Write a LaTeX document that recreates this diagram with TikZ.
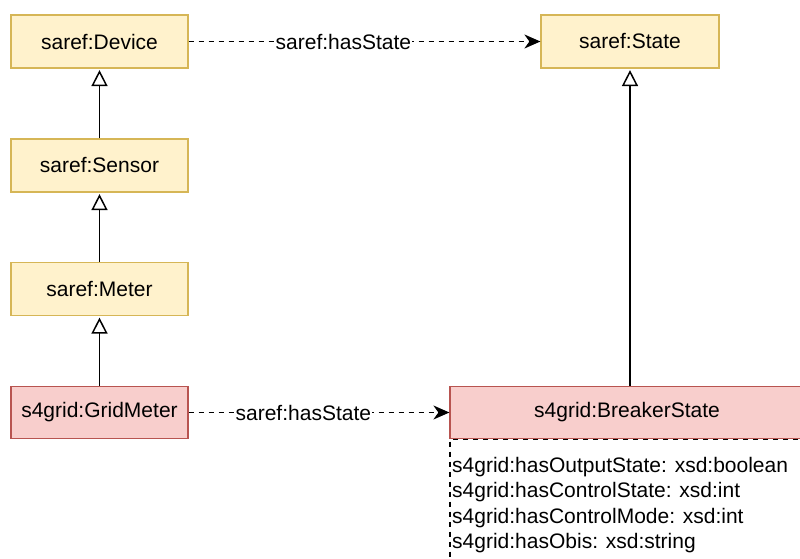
\documentclass[tikz,border=0pt]{standalone}
\usepackage{fontspec}
\setmainfont{Liberation Sans}
\usepackage{xcolor}
\usetikzlibrary{arrows.meta}

\definecolor{sarefFill}{HTML}{FFF2CC}
\definecolor{sarefLine}{HTML}{D6B656}
\definecolor{gridFill}{HTML}{F8CECC}
\definecolor{gridLine}{HTML}{B85450}

\begin{document}
\begin{tikzpicture}[x=1pt, y=-1pt, font=\fontsize{21}{25.5}\selectfont,
    saref/.style={draw=sarefLine, fill=sarefFill, line width=1.2pt, rectangle, minimum width=177pt, minimum height=53pt},
    s4grid/.style={draw=gridLine, fill=gridFill, line width=1.2pt, rectangle, minimum height=52pt},
    isa/.style={-{Triangle[open, length=16pt, width=16pt]}, line width=1.5pt, shorten >=1.5pt},
    rel/.style={-{Stealth[length=16pt, width=14pt, inset=5pt]}, dash pattern=on 5pt off 5pt, line width=1.5pt},
    lbl/.style={fill=white, inner sep=1pt}]
        \useasboundingbox (0,0) rectangle (800,559);

        % SAREF classes
        \node[saref] (device) at (99.5,41.5) {saref:Device};
        \node[saref, minimum width=178pt] (state) at (630,41.5) {saref:State};
        \node[saref] (sensor) at (99.5,165.5) {saref:Sensor};
        \node[saref] (meter) at (99.5,289) {saref:Meter};

        % S4GRID classes
        \node[s4grid, minimum width=177pt] (gridmeter) at (99.5,412.5) {s4grid:GridMeter};
        \node[s4grid, minimum width=354pt] (breaker) at (627,412.5) {s4grid:BreakerState};

        % Attributes
        \node[draw, dash pattern=on 5pt off 5pt, line width=1.2pt, minimum width=354pt, minimum height=160pt, anchor=north west, inner sep=0pt] (attrbox) at (breaker.south west) {};
        \node[anchor=north west, align=left, inner sep=0pt] (attrs) at (452,457) {s4grid:hasOutputState: xsd:boolean\\s4grid:hasControlState: xsd:int\\s4grid:hasControlMode: xsd:int\\s4grid:hasObis: xsd:string};

        % Subclass links
        \draw[isa] (sensor) -- (device);
        \draw[isa] (meter) -- (sensor);
        \draw[isa] (gridmeter) -- (meter);
        \draw[isa] (breaker.north -| state.south) -- (state.south);

        % hasState links
        \draw[rel] (device) -- node[lbl, pos=0.44] (hasstate1) {saref:hasState} (state);
        \draw[rel] (gridmeter) -- node[lbl, pos=0.44] (hasstate2) {saref:hasState} (breaker);
    \end{tikzpicture}
\end{document}
